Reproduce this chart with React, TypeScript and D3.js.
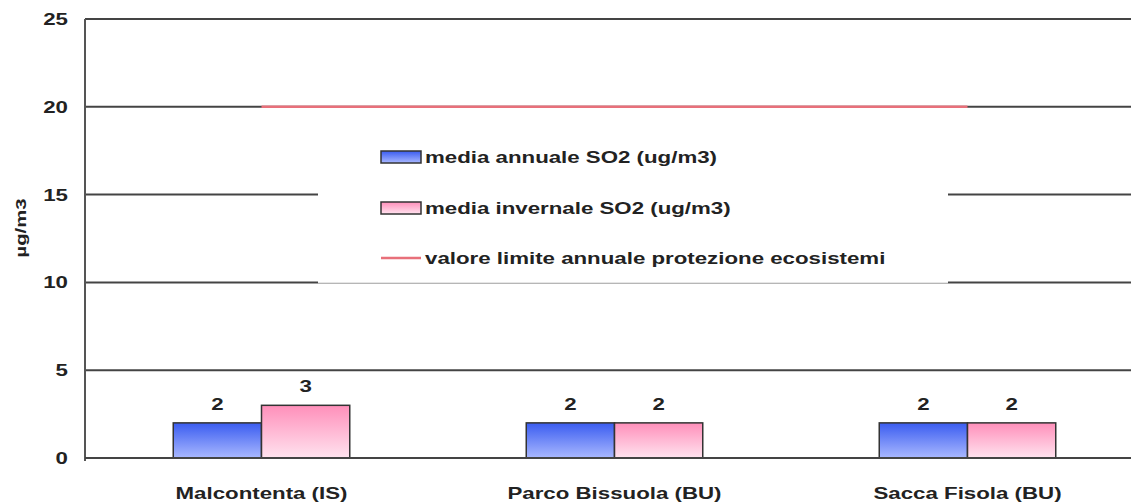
import React from "react";
import * as d3 from "d3";

const categories = ["Malcontenta (IS)", "Parco Bissuola (BU)", "Sacca Fisola (BU)"];
const seriesNames = ["media annuale SO2 (ug/m3)", "media invernale SO2 (ug/m3)"];
const annualValues = [2, 2, 2];
const winterValues = [3, 2, 2];
const limitValues = [20, 20, 20];
const limitName = "valore limite annuale protezione ecosistemi";
const yTicks = [0, 5, 10, 15, 20, 25];
const yLabel = "µg/m3";

const W = 1131;
const H = 503;
const FONT = "'Liberation Sans', Arial, sans-serif";
const SX = 1.35;
const FS = 16.5;

export default function App() {
  const x0 = d3.scaleBand<string>().domain(categories).range([85, 1144]).padding(0);
  const x1 = d3
    .scaleBand<number>()
    .domain([0, 1])
    .range([x0.bandwidth() * 0.25, x0.bandwidth() * 0.75])
    .padding(0);
  const y = d3.scaleLinear().domain([0, 25]).range([458, 19]);

  const series = [annualValues, winterValues];
  const fills = ["url(#gBlue)", "url(#gPink)"];

  const lineGen = d3
    .line<number>()
    .x((_, i) => (x0(categories[i]) as number) + x0.bandwidth() / 2)
    .y((d) => y(d));

  const txt = (
    x: number,
    yy: number,
    s: string,
    anchor: "start" | "middle" | "end",
    key?: string,
    size = FS
  ) => (
    <text
      key={key}
      transform={`translate(${x},${yy}) scale(${SX},1)`}
      textAnchor={anchor}
      fontFamily={FONT}
      fontWeight="bold"
      fontSize={size}
      fill="#222"
    >
      {s}
    </text>
  );

  const legX = 381;
  const legRows = [157, 208, 258];

  return (
    <svg
      width={W}
      height={H}
      style={{ position: "absolute", left: 0, top: 0, background: "#fff" }}
    >
      <defs>
        <linearGradient id="gBlue" x1="0" y1="0" x2="0" y2="1">
          <stop offset="0" stopColor="#3a5cf0" />
          <stop offset="1" stopColor="#a9b8ff" />
        </linearGradient>
        <linearGradient id="gPink" x1="0" y1="0" x2="0" y2="1">
          <stop offset="0" stopColor="#ff8fba" />
          <stop offset="1" stopColor="#ffe3ef" />
        </linearGradient>
      </defs>
      <rect x={0} y={0} width={W} height={H} fill="#fff" />

      {/* gridlines */}
      {yTicks.map((t) => (
        <line
          key={"g" + t}
          x1={85}
          x2={W}
          y1={y(t)}
          y2={y(t)}
          stroke="#444"
          strokeWidth={2}
        />
      ))}
      {/* y axis */}
      <line x1={85} x2={85} y1={y(25)} y2={y(0) + 3} stroke="#555" strokeWidth={2} />

      {/* tick labels */}
      {yTicks.map((t) => txt(68, y(t) + 6, String(t), "end", "t" + t))}

      {/* y label */}
      <text
        transform={`translate(26,228) rotate(-90) scale(${SX},1)`}
        textAnchor="middle"
        fontFamily={FONT}
        fontWeight="bold"
        fontSize={15}
        fill="#222"
      >
        {yLabel}
      </text>

      {/* legend box */}
      <rect x={318} y={125} width={630} height={158} fill="#fff" />
      <line x1={318} x2={948} y1={283} y2={283} stroke="#ccc" strokeWidth={1} />

      {/* bars */}
      {categories.map((c, ci) => (
        <g key={c} transform={`translate(${x0(c)},0)`}>
          {series.map((vals, si) => {
            const bx = x1(si) as number;
            const bw = x1.bandwidth();
            return (
              <g key={si}>
                <rect
                  x={bx}
                  y={y(vals[ci])}
                  width={bw}
                  height={y(0) - y(vals[ci])}
                  fill={fills[si]}
                  stroke="#333"
                  strokeWidth={1.5}
                />
                {txt(bx + bw / 2, y(vals[ci]) - 13, String(vals[ci]), "middle")}
              </g>
            );
          })}
        </g>
      ))}
      <line x1={85} x2={W} y1={y(0)} y2={y(0)} stroke="#444" strokeWidth={2} />

      {/* limit line */}
      <path d={lineGen(limitValues) || ""} fill="none" stroke="#e8707a" strokeWidth={2.5} />

      {/* category labels */}
      {categories.map((c) =>
        txt((x0(c) as number) + x0.bandwidth() / 2, 499, c, "middle", "c" + c)
      )}

      {/* legend */}
      <rect x={legX} y={legRows[0] - 6} width={40} height={12} fill="url(#gBlue)" stroke="#333" strokeWidth={1.5} />
      {txt(425, legRows[0] + 6, seriesNames[0], "start")}
      <rect x={legX} y={legRows[1] - 6} width={40} height={12} fill="url(#gPink)" stroke="#333" strokeWidth={1.5} />
      {txt(425, legRows[1] + 6, seriesNames[1], "start")}
      <line x1={legX} x2={legX + 40} y1={legRows[2]} y2={legRows[2]} stroke="#e8707a" strokeWidth={2.5} />
      {txt(425, legRows[2] + 6, limitName, "start")}
    </svg>
  );
}
